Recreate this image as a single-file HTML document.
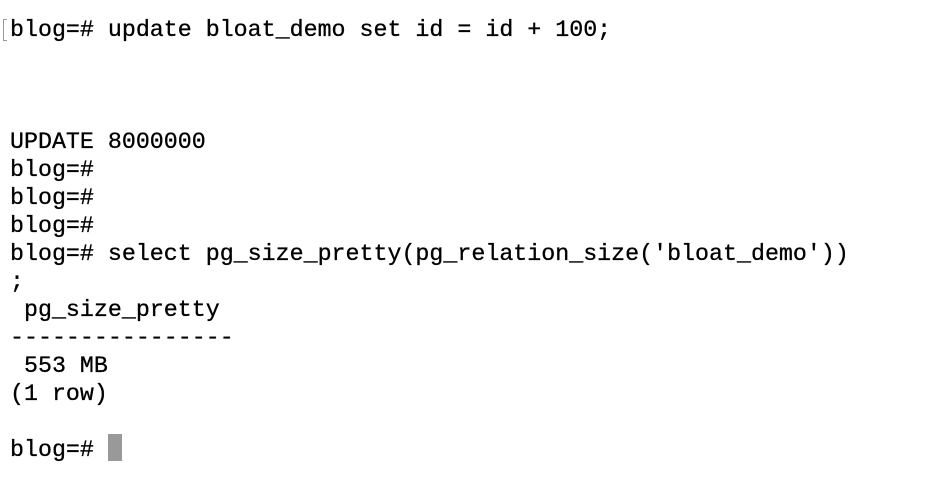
<!DOCTYPE html>
<html><head><style>
body{margin:0;width:950px;height:482px;background:#fff;overflow:hidden;position:relative}
.l{position:absolute;left:10px;font-family:"Liberation Mono",monospace;font-size:23.3px;color:#000;white-space:pre;line-height:28px;-webkit-text-stroke:0.3px #000}
</style></head><body>
<div style="position:absolute;left:3px;top:19px;width:4px;height:22px;border:1px solid #999;border-right:none;box-sizing:border-box"></div>
<div class="l" style="top:16px">blog=# update bloat_demo set id = id + 100;</div>
<div class="l" style="top:128px">UPDATE 8000000</div>
<div class="l" style="top:156px">blog=#</div>
<div class="l" style="top:184px">blog=#</div>
<div class="l" style="top:212px">blog=#</div>
<div class="l" style="top:240px">blog=# select pg_size_pretty(pg_relation_size('bloat_demo'))</div>
<div class="l" style="top:268px">;</div>
<div class="l" style="top:296px"> pg_size_pretty</div>
<div class="l" style="top:324px">----------------</div>
<div class="l" style="top:352px"> 553 MB</div>
<div class="l" style="top:380px">(1 row)</div>
<div class="l" style="top:436px">blog=#</div>
<div style="position:absolute;left:108px;top:434px;width:14px;height:27px;background:#999"></div>
</body></html>
